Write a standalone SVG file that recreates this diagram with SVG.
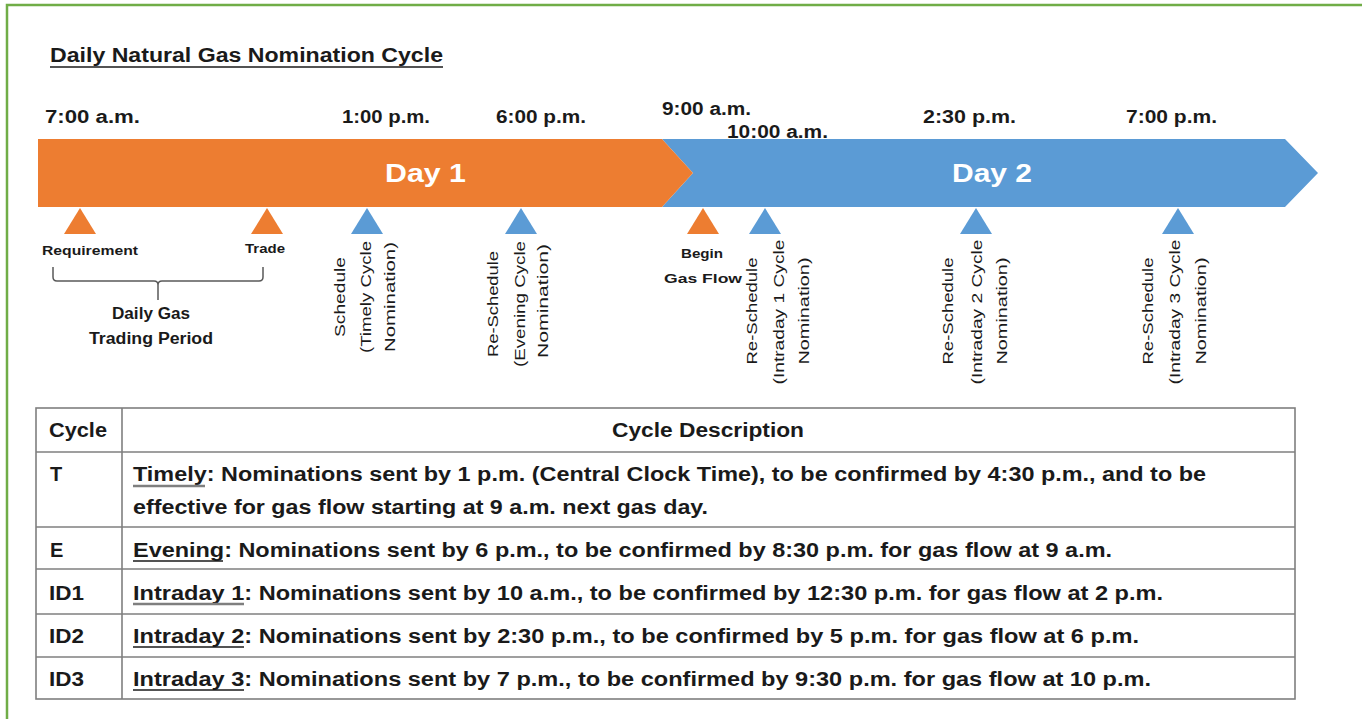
<svg xmlns="http://www.w3.org/2000/svg" width="1362" height="719" viewBox="0 0 1362 719">
<style>
  text { font-family: "Liberation Sans", Arial, sans-serif; fill: #1a1a1a; }
  .time { font-size: 18px; font-weight: bold; }
  .title { font-size: 20px; font-weight: bold; }
  .day { font-size: 26px; font-weight: bold; fill: #ffffff; }
  .small { font-size: 13px; font-weight: bold; text-anchor: middle; }
  .mid { font-size: 16px; font-weight: bold; text-anchor: middle; }
  .rot { font-size: 15px; text-anchor: middle; }
  .cell { font-size: 20px; font-weight: bold; }
  .orange { fill: #ED7D31; }
  .blue { fill: #5B9BD5; }
  .grid { stroke: #7f7f7f; stroke-width: 1.6; fill: none; }
  .ulg { stroke: #7f7f7f; stroke-width: 2.6; }
  .uld { stroke: #1a1a1a; stroke-width: 1.6; }
</style>
<rect width="1362" height="719" fill="#ffffff"/>
<rect x="7" y="5" width="1380" height="740" fill="none" stroke="#70AD47" stroke-width="2.5"/>

<g id="title">
  <text class="title" x="50" y="62" textLength="393" lengthAdjust="spacingAndGlyphs">Daily Natural Gas Nomination Cycle</text>
  <line x1="50" y1="67" x2="443" y2="67" stroke="#1a1a1a" stroke-width="1.5"/>
</g>

<g id="times">
  <text class="time" x="45" y="123" textLength="95" lengthAdjust="spacingAndGlyphs">7:00 a.m.</text>
  <text class="time" x="342" y="123" textLength="88" lengthAdjust="spacingAndGlyphs">1:00 p.m.</text>
  <text class="time" x="496" y="123" textLength="90" lengthAdjust="spacingAndGlyphs">6:00 p.m.</text>
  <text class="time" x="662" y="115" textLength="89" lengthAdjust="spacingAndGlyphs">9:00 a.m.</text>
  <text class="time" x="727" y="138" textLength="101" lengthAdjust="spacingAndGlyphs">10:00 a.m.</text>
  <text class="time" x="923" y="123" textLength="93" lengthAdjust="spacingAndGlyphs">2:30 p.m.</text>
  <text class="time" x="1126" y="123" textLength="91" lengthAdjust="spacingAndGlyphs">7:00 p.m.</text>
</g>

<g id="day2">
  <polygon class="blue" points="662,139 1285,139 1318,173 1285,207 662,207 693,173"/>
  <text class="day" x="952" y="182" textLength="80" lengthAdjust="spacingAndGlyphs">Day 2</text>
</g>
<g id="day1">
  <polygon class="orange" points="38,139 662,139 693,173 662,207 38,207"/>
  <text class="day" x="385" y="182" textLength="81" lengthAdjust="spacingAndGlyphs">Day 1</text>
</g>

<g id="requirement">
  <polygon class="orange" points="80,208 96,234 64,234"/>
  <text class="small" x="90" y="255" textLength="96" lengthAdjust="spacingAndGlyphs">Requirement</text>
</g>
<g id="trade">
  <polygon class="orange" points="267,208 283,234 251,234"/>
  <text class="small" x="265" y="253" textLength="40" lengthAdjust="spacingAndGlyphs">Trade</text>
</g>
<g id="trading-period">
  <text class="mid" x="151" y="319" textLength="78" lengthAdjust="spacingAndGlyphs">Daily Gas</text>
  <text class="mid" x="151" y="344" textLength="124" lengthAdjust="spacingAndGlyphs">Trading Period</text>
</g>

<g id="schedule">
  <polygon class="blue" points="367,208 383,234 351,234"/>
  <text class="rot" transform="translate(345,297) rotate(-90)" textLength="80" lengthAdjust="spacingAndGlyphs">Schedule</text>
  <text class="rot" transform="translate(371,297) rotate(-90)" textLength="112" lengthAdjust="spacingAndGlyphs">(Timely Cycle</text>
  <text class="rot" transform="translate(395,297) rotate(-90)" textLength="110" lengthAdjust="spacingAndGlyphs">Nomination)</text>
</g>
<g id="evening">
  <polygon class="blue" points="521,208 537,234 505,234"/>
  <text class="rot" transform="translate(498,304) rotate(-90)" textLength="106" lengthAdjust="spacingAndGlyphs">Re-Schedule</text>
  <text class="rot" transform="translate(525,304) rotate(-90)" textLength="126" lengthAdjust="spacingAndGlyphs">(Evening Cycle</text>
  <text class="rot" transform="translate(548,301) rotate(-90)" textLength="114" lengthAdjust="spacingAndGlyphs">Nomination)</text>
</g>
<g id="begin-gas-flow">
  <polygon class="orange" points="703,208 719,234 687,234"/>
  <text class="small" x="702" y="258" textLength="42" lengthAdjust="spacingAndGlyphs">Begin</text>
  <text class="small" x="703" y="283" textLength="78" lengthAdjust="spacingAndGlyphs">Gas Flow</text>
</g>
<g id="intraday1">
  <polygon class="blue" points="765,208 781,234 749,234"/>
  <text class="rot" transform="translate(757,311) rotate(-90)" textLength="107" lengthAdjust="spacingAndGlyphs">Re-Schedule</text>
  <text class="rot" transform="translate(784,312) rotate(-90)" textLength="145" lengthAdjust="spacingAndGlyphs">(Intraday 1 Cycle</text>
  <text class="rot" transform="translate(809,311) rotate(-90)" textLength="107" lengthAdjust="spacingAndGlyphs">Nomination)</text>
</g>
<g id="intraday2">
  <polygon class="blue" points="976,208 992,234 960,234"/>
  <text class="rot" transform="translate(953,311) rotate(-90)" textLength="107" lengthAdjust="spacingAndGlyphs">Re-Schedule</text>
  <text class="rot" transform="translate(982,312) rotate(-90)" textLength="145" lengthAdjust="spacingAndGlyphs">(Intraday 2 Cycle</text>
  <text class="rot" transform="translate(1007,311) rotate(-90)" textLength="107" lengthAdjust="spacingAndGlyphs">Nomination)</text>
</g>
<g id="intraday3">
  <polygon class="blue" points="1178,208 1194,234 1162,234"/>
  <text class="rot" transform="translate(1153,311) rotate(-90)" textLength="107" lengthAdjust="spacingAndGlyphs">Re-Schedule</text>
  <text class="rot" transform="translate(1180,312) rotate(-90)" textLength="145" lengthAdjust="spacingAndGlyphs">(Intraday 3 Cycle</text>
  <text class="rot" transform="translate(1206,311) rotate(-90)" textLength="107" lengthAdjust="spacingAndGlyphs">Nomination)</text>
</g>

<g id="connectors">
  <path d="M53,267 V277 Q53,281 57,281 H154 Q158,281 158,285 V300 M158,285 Q158,281 162,281 H259 Q263,281 263,277 V267" fill="none" stroke="#595959" stroke-width="1.5"/>
</g>

<g id="table">
  <rect class="grid" x="36" y="408" width="1259" height="291"/>
  <line class="grid" x1="122" y1="408" x2="122" y2="699"/>
  <line class="grid" x1="36" y1="452" x2="1295" y2="452"/>
  <line class="grid" x1="36" y1="527" x2="1295" y2="527"/>
  <line class="grid" x1="36" y1="569" x2="1295" y2="569"/>
  <line class="grid" x1="36" y1="614" x2="1295" y2="614"/>
  <line class="grid" x1="36" y1="657" x2="1295" y2="657"/>

  <text class="cell" x="49" y="437" textLength="58" lengthAdjust="spacingAndGlyphs">Cycle</text>
  <text class="cell" x="612" y="437" textLength="192" lengthAdjust="spacingAndGlyphs">Cycle Description</text>

  <text class="cell" x="50" y="481">T</text>
  <text class="cell" x="133" y="481" textLength="1073" lengthAdjust="spacingAndGlyphs">Timely: Nominations sent by 1 p.m. (Central Clock Time), to be confirmed by 4:30 p.m., and to be</text>
  <text class="cell" x="133" y="514" textLength="575" lengthAdjust="spacingAndGlyphs">effective for gas flow starting at 9 a.m. next gas day.</text>
  <line class="ulg" x1="133" y1="486" x2="205" y2="486"/>

  <text class="cell" x="50" y="557">E</text>
  <text class="cell" x="133" y="557" textLength="979" lengthAdjust="spacingAndGlyphs">Evening: Nominations sent by 6 p.m., to be confirmed by 8:30 p.m. for gas flow at 9 a.m.</text>
  <line class="uld" x1="133" y1="561" x2="223" y2="561"/>

  <text class="cell" x="49" y="600" textLength="35" lengthAdjust="spacingAndGlyphs">ID1</text>
  <text class="cell" x="133" y="600" textLength="1030" lengthAdjust="spacingAndGlyphs">Intraday 1: Nominations sent by 10 a.m., to be confirmed by 12:30 p.m. for gas flow at 2 p.m.</text>
  <line class="ulg" x1="133" y1="604" x2="244" y2="604"/>

  <text class="cell" x="49" y="643" textLength="35" lengthAdjust="spacingAndGlyphs">ID2</text>
  <text class="cell" x="133" y="643" textLength="1006" lengthAdjust="spacingAndGlyphs">Intraday 2: Nominations sent by 2:30 p.m., to be confirmed by 5 p.m. for gas flow at 6 p.m.</text>
  <line class="uld" x1="133" y1="647" x2="244" y2="647"/>

  <text class="cell" x="49" y="686" textLength="35" lengthAdjust="spacingAndGlyphs">ID3</text>
  <text class="cell" x="133" y="686" textLength="1018" lengthAdjust="spacingAndGlyphs">Intraday 3: Nominations sent by 7 p.m., to be confirmed by 9:30 p.m. for gas flow at 10 p.m.</text>
  <line class="uld" x1="133" y1="690" x2="244" y2="690"/>
</g>
</svg>
